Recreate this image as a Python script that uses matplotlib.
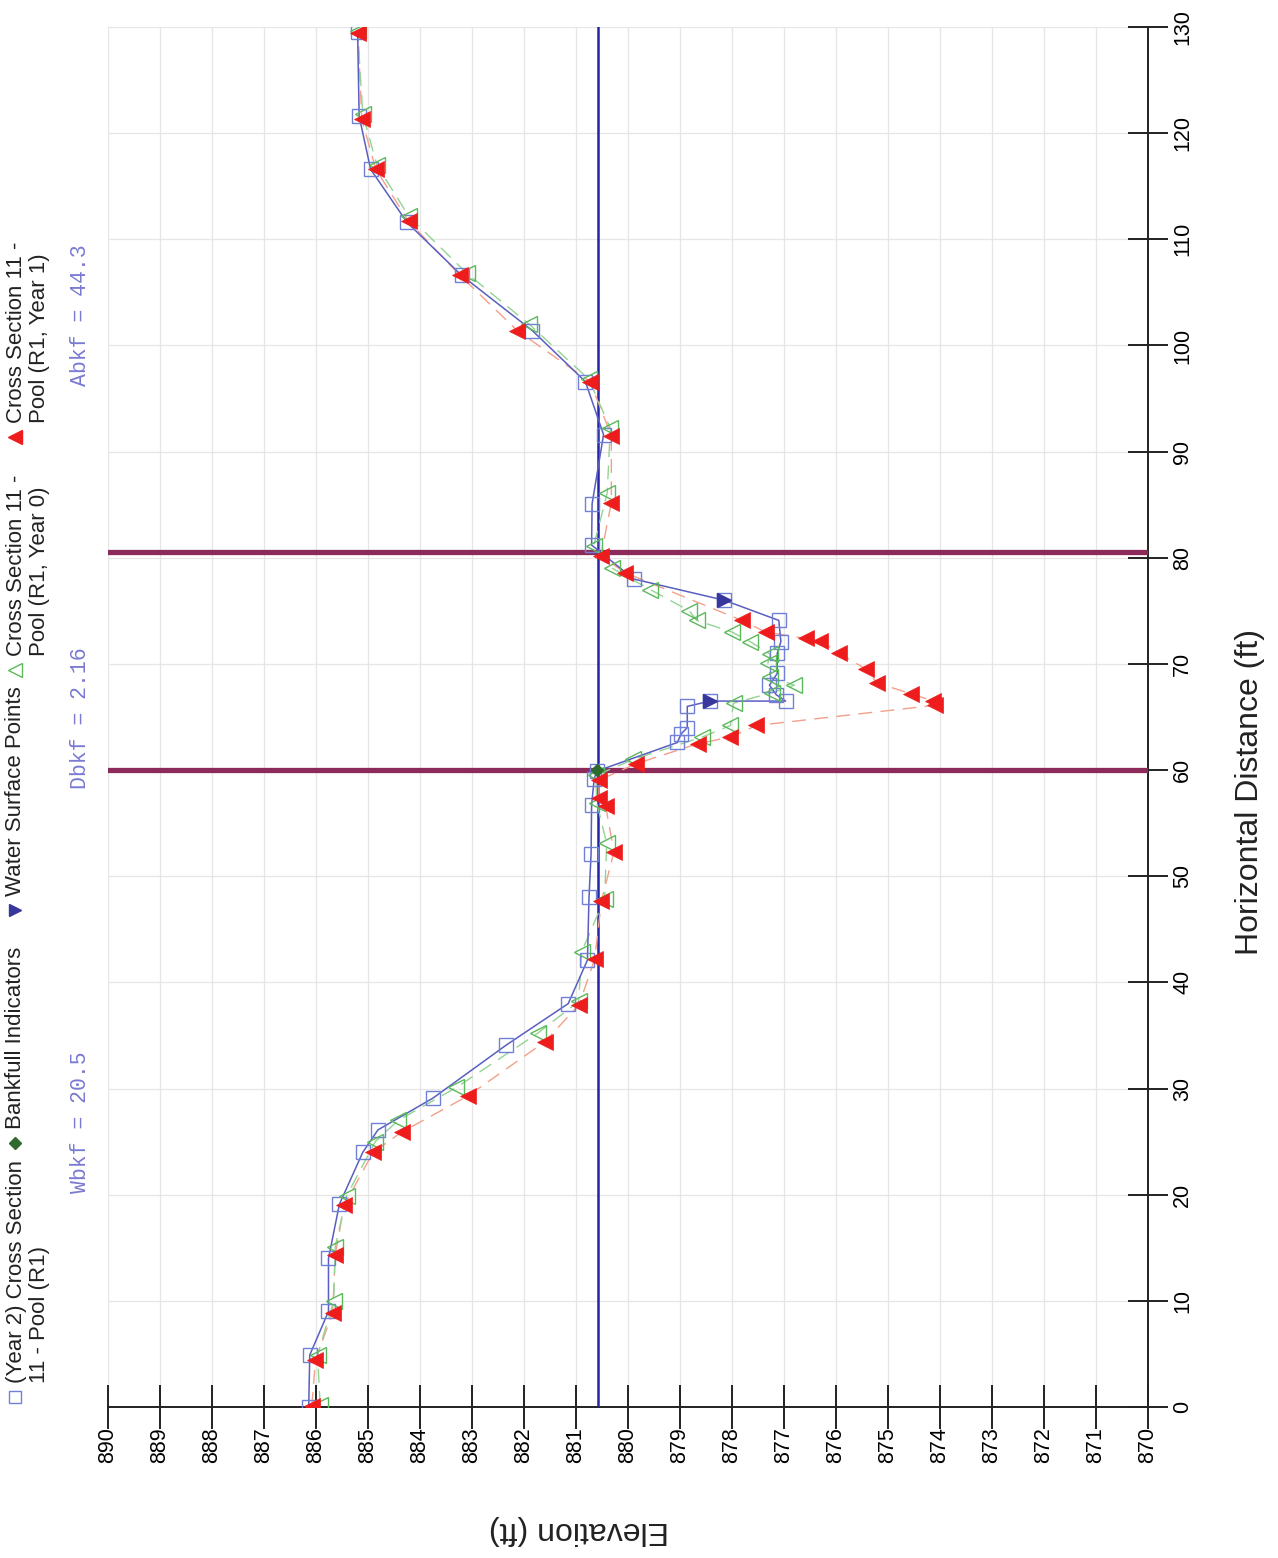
import matplotlib
matplotlib.use("Agg")
import matplotlib.pyplot as plt
from matplotlib.lines import Line2D
import numpy as np

# ---------------- data (elevation ft, horizontal distance ft) ----------------
yr2_dist = [0.0, 4.9, 9.0, 14.0, 19.1, 24.0, 26.1, 29.1, 34.1, 38.0, 42.1, 48.0, 52.1,
            56.7, 59.2, 59.9, 62.6, 63.4, 64.0, 66.0, 66.5, 66.5, 67.1, 68.0, 69.1, 71.0,
            72.1, 74.1, 76.0, 78.0, 81.2, 85.1, 91.6, 96.6, 101.4, 106.6, 111.6, 116.6,
            121.6, 129.5]
yr2_elev = [886.14, 886.12, 885.76, 885.76, 885.55, 885.10, 884.81, 883.75, 882.34, 881.15,
            880.78, 880.75, 880.71, 880.70, 880.65, 880.60, 879.05, 878.98, 878.86, 878.86,
            878.42, 876.97, 877.15, 877.28, 877.13, 877.13, 877.06, 877.10, 878.15, 879.89,
            880.70, 880.69, 880.47, 880.82, 881.84, 883.20, 884.25, 884.95, 885.17, 885.20]

yr0_dist = [0.2, 4.9, 10.0, 15.1, 19.9, 25.0, 27.0, 30.1, 35.2, 38.2, 42.9, 47.9, 53.1,
            56.9, 59.5, 61.0, 63.1, 64.2, 66.3, 67.3, 68.0, 68.8, 70.1, 70.9, 72.1, 73.0,
            74.1, 75.0, 77.0, 79.0, 81.1, 86.1, 92.2, 96.8, 102.0, 106.8, 112.2, 117.0,
            121.8, 129.6]
yr0_elev = [885.92, 885.97, 885.66, 885.63, 885.41, 884.86, 884.42, 883.30, 881.74, 880.95,
            880.89, 880.45, 880.41, 880.60, 880.62, 879.90, 878.58, 878.03, 877.97, 877.23,
            876.80, 877.26, 877.31, 877.26, 877.65, 878.00, 878.68, 878.82, 879.57, 880.30,
            880.66, 880.40, 880.34, 880.75, 881.90, 883.10, 884.22, 884.83, 885.10, 885.20]

yr1_dist = [0.1, 4.4, 8.9, 14.3, 19.0, 24.0, 25.9, 29.3, 34.4, 37.9, 42.2, 47.7, 52.3,
            56.6, 57.4, 59.05, 60.6, 62.5, 63.1, 64.2, 66.1, 66.5, 67.2, 68.2, 69.5, 71.0,
            72.2, 72.4, 73.0, 74.1, 78.6, 80.2, 85.2, 91.5, 96.6, 101.4, 106.6, 111.7,
            116.6, 121.3, 129.4]
yr1_elev = [886.08, 886.01, 885.68, 885.63, 885.46, 884.90, 884.35, 883.08, 881.60, 880.94,
            880.64, 880.51, 880.27, 880.43, 880.56, 880.56, 879.84, 878.65, 878.03, 877.53,
            874.10, 874.13, 874.56, 875.21, 875.42, 875.94, 876.30, 876.58, 877.35, 877.81,
            880.06, 880.52, 880.32, 880.32, 880.73, 882.13, 883.23, 884.22, 884.85, 885.12,
            885.19]

ws_dist = [66.5, 76.0]
ws_elev = [878.42, 878.15]

bkf_dist = [60.0, 80.5]
bkf_elev = [880.60, 880.60]

water_surface_elev = 880.58

elev_ticks = list(range(870, 891))
dist_ticks = list(range(0, 131, 10))

ann_labels = ["Wbkf = 20.5", "Dbkf = 2.16", "Abkf = 44.3"]

legend_labels = ["(Year 2) Cross Section\n11 - Pool (R1)",
                 "Bankfull Indicators",
                 "Water Surface Points",
                 "Cross Section 11 -\nPool (R1, Year 0)",
                 "Cross Section 11 -\nPool (R1, Year 1)"]

# ---------------- styling ----------------
C_Y2_LINE = "#5a5ec0"
C_Y2_MK = "#6f80d6"
C_Y0 = "#5cb85c"
C_Y0_LINE = "#93d493"
C_Y1 = "#ee1c1c"
C_Y1_LINE = "#f3a08a"
C_WS = "#38389c"
C_BKF = "#2f6b2f"
C_BKF_LINE = "#8c2b5a"
C_WATER = "#2424a4"
C_ANN = "#7a7ad2"

W, H = 1278, 1558
fig = plt.figure(figsize=(W / 100, H / 100), dpi=100)
fig.patch.set_facecolor("white")

ax = fig.add_axes([108 / W, 1 - 1407 / H, (1148 - 108) / W, (1407 - 27) / H])
ax.set_xlim(890, 870)
ax.set_ylim(0, 130)

# grid
ax.set_xticks(elev_ticks)
ax.set_yticks(dist_ticks)
ax.grid(True, color="#e6e6e6", lw=0.9)
ax.set_axisbelow(True)

# water surface line & bankfull lines
ax.axvline(water_surface_elev, color=C_WATER, lw=1.8, zorder=3)
for d in bkf_dist:
    ax.axhline(d, color=C_BKF_LINE, lw=3.8, zorder=3)

# series lines
ax.plot(yr1_elev, yr1_dist, color=C_Y1_LINE, lw=1.0, ls=(0, (10, 6)), zorder=4)
ax.plot(yr0_elev, yr0_dist, color=C_Y0_LINE, lw=1.0, ls=(0, (10, 6)), zorder=4)
ax.plot(yr2_elev, yr2_dist, color=C_Y2_LINE, lw=1.1, zorder=5)

# markers
ax.plot(yr2_elev, yr2_dist, ls="none", marker="s", ms=10, mfc="none", mec=C_Y2_MK, mew=1.0, zorder=6)
ax.plot(yr0_elev, yr0_dist, ls="none", marker="<", ms=11.5, mfc="none", mec=C_Y0, mew=1.0, zorder=6)
ax.plot(yr1_elev, yr1_dist, ls="none", marker="<", ms=11.5, mfc=C_Y1, mec=C_Y1, mew=0.5, zorder=7)
ax.plot(ws_elev, ws_dist, ls="none", marker=">", ms=10, mfc=C_WS, mec=C_WS, zorder=8)
ax.plot(bkf_elev[:1], bkf_dist[:1], ls="none", marker="D", ms=6, mfc=C_BKF, mec=C_BKF, zorder=8)

# spines / ticks
for s in ["top", "left"]:
    ax.spines[s].set_visible(False)
for s in ["bottom", "right"]:
    ax.spines[s].set_color("#222222")
    ax.spines[s].set_linewidth(1.4)
ax.yaxis.tick_right()
ax.tick_params(axis="x", direction="inout", length=31, width=1.4, color="#222222",
               labelsize=15.5, pad=-1, labelrotation=90)
ax.tick_params(axis="y", direction="inout", length=29, width=1.4, color="#222222",
               labelsize=15.5, pad=3, labelrotation=90)
ax.set_xticklabels([str(t) for t in elev_ticks], family="Liberation Sans")
ax.set_yticklabels([str(t) for t in dist_ticks], family="Liberation Sans", va="center")

# axis titles (rotated, as in the scanned page)
fig.text(1250 / W, 1 - 792 / H, "Horizontal Distance (ft)", rotation=90, ha="center",
         va="center", fontsize=23, family="Liberation Sans", color="#222222")
fig.text(579 / W, 1 - 1530 / H, "Elevation (ft)", rotation=180, ha="center",
         va="center", fontsize=23, family="Liberation Sans", color="#222222")

# bankfull annotations
for lbl, yc in zip(ann_labels, [1122, 718, 315]):
    fig.text(80 / W, 1 - yc / H, lbl, rotation=90, ha="center", va="center",
             fontsize=15.5, family="Liberation Mono", color=C_ANN)

# legend (rotated)
leg_marker_y = [1397, 1143, 910, 670, 437]
leg_styles = [dict(marker="s", mfc="none", mec=C_Y2_MK, ms=9, mew=1.0),
              dict(marker="D", mfc=C_BKF, mec=C_BKF, ms=6),
              dict(marker=">", mfc=C_WS, mec=C_WS, ms=9),
              dict(marker="<", mfc="none", mec=C_Y0, ms=10, mew=1.0),
              dict(marker="<", mfc=C_Y1, mec=C_Y1, ms=10)]
for lbl, my, st in zip(legend_labels, leg_marker_y, leg_styles):
    fig.add_artist(Line2D([15 / W], [1 - my / H], transform=fig.transFigure, ls="none", **st))
    two = "\n" in lbl
    fig.text((28 if two else 16) / W, 1 - (my - 14) / H, lbl, rotation=90, ha="center",
             va="bottom", fontsize=16, family="Liberation Sans", color="#222222",
             multialignment="left", linespacing=1.15)

fig.savefig("out.png", dpi=100, facecolor="white")
